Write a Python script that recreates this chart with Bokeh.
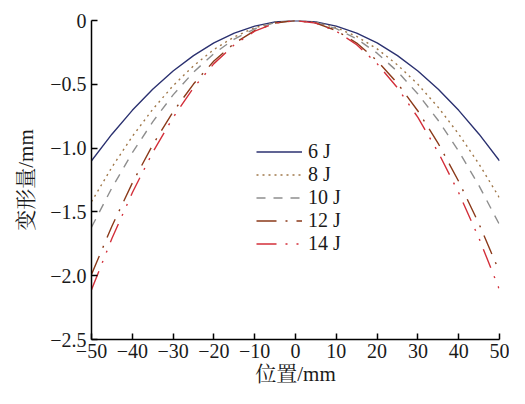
from bokeh.plotting import figure
from bokeh.models import FixedTicker, CustomJSTickFormatter, Legend, LegendItem, Range1d
from bokeh.embed import file_html
from bokeh.resources import INLINE

# ---- data ----
positions = [-50, -45, -40, -35, -30, -25, -20, -15, -10, -5, 0,
             5, 10, 15, 20, 25, 30, 35, 40, 45, 50]

d_6J = [-1.10, -0.891, -0.704, -0.539, -0.396, -0.275, -0.176, -0.099, -0.044, -0.011, 0.0,
        -0.011, -0.044, -0.099, -0.176, -0.275, -0.396, -0.539, -0.704, -0.891, -1.10]
d_8J = [-1.42, -1.150, -0.909, -0.696, -0.511, -0.355, -0.227, -0.128, -0.057, -0.014, 0.0,
        -0.014, -0.056, -0.125, -0.222, -0.348, -0.500, -0.681, -0.890, -1.126, -1.39]
d_10J = [-1.62, -1.312, -1.037, -0.794, -0.583, -0.405, -0.259, -0.146, -0.065, -0.016, 0.0,
         -0.016, -0.064, -0.144, -0.256, -0.400, -0.576, -0.784, -1.024, -1.296, -1.60]
d_12J = [-1.99, -1.612, -1.274, -0.975, -0.716, -0.498, -0.318, -0.179, -0.080, -0.020, 0.0,
         -0.020, -0.079, -0.177, -0.315, -0.493, -0.709, -0.965, -1.261, -1.596, -1.97]
d_14J = [-2.11, -1.709, -1.350, -1.034, -0.760, -0.528, -0.338, -0.190, -0.084, -0.021, 0.0,
         -0.021, -0.084, -0.190, -0.338, -0.528, -0.760, -1.034, -1.350, -1.709, -2.11]

series_labels = ["6 J", "8 J", "10 J", "12 J", "14 J"]
series_data = [d_6J, d_8J, d_10J, d_12J, d_14J]

x_ticks = [-50, -40, -30, -20, -10, 0, 10, 20, 30, 40, 50]
y_ticks = [-2.5, -2.0, -1.5, -1.0, -0.5, 0.0]

x_title = "位置/mm"
y_title = "变形量/mm"

# ---- styles ----
colors = ["#2b3170", "#a0784a", "#8e8e8e", "#8b3a1a", "#d32f3a"]
dashes = ["solid", "2 4", "9 8", "20 9 2 9", "20 9 2 9 2 9"]

SERIF = "Liberation Serif, Noto Serif CJK SC, Noto Sans CJK SC"

p = figure(width=509, height=388, output_backend="svg", toolbar_location=None,
           x_range=Range1d(-50, 50), y_range=Range1d(-2.5, 0),
           min_border_left=91, min_border_right=10, min_border_top=20,
           min_border_bottom=10)
p.outline_line_color = None
p.grid.visible = False
p.background_fill_color = "white"

renderers = []
for data, c, d in zip(series_data, colors, dashes):
    r = p.line(positions, data, line_color=c, line_width=1.4, line_dash=d)
    renderers.append(r)

for ax in (p.xaxis[0], p.yaxis[0]):
    ax.axis_line_color = "black"
    ax.axis_line_width = 1.5
    ax.major_tick_line_color = "black"
    ax.major_tick_line_width = 1.5
    ax.major_tick_in = 6
    ax.major_tick_out = 0
    ax.minor_tick_line_color = None
    ax.major_label_text_font = SERIF
    ax.major_label_text_font_size = "20px"
    ax.major_label_text_color = "#1a1a1a"
    ax.axis_label_text_font = SERIF
    ax.axis_label_text_font_size = "21px"
    ax.axis_label_text_font_style = "normal"
    ax.axis_label_text_color = "#1a1a1a"

p.xaxis[0].ticker = FixedTicker(ticks=x_ticks)
p.yaxis[0].ticker = FixedTicker(ticks=y_ticks)
p.xaxis[0].formatter = CustomJSTickFormatter(
    code="return tick < 0 ? '\u2212' + Math.abs(tick) : '' + tick;")
p.yaxis[0].formatter = CustomJSTickFormatter(
    code="return Math.abs(tick) < 1e-9 ? '0' : '\u2212' + Math.abs(tick).toFixed(1);")
p.xaxis[0].axis_label = x_title
p.yaxis[0].axis_label = y_title
p.xaxis[0].major_label_standoff = 4
p.xaxis[0].axis_label_standoff = 1
p.yaxis[0].major_label_standoff = 5
p.yaxis[0].axis_label_standoff = 9

legend = Legend(items=[LegendItem(label=l, renderers=[r]) for l, r in zip(series_labels, renderers)],
                location=(165, 84))
legend.padding = 0
legend.margin = 0
legend.spacing = 0
legend.glyph_width = 46
legend.glyph_height = 23
legend.label_height = 23
legend.label_standoff = 6
legend.label_text_font = SERIF
legend.label_text_font_size = "20px"
legend.label_text_color = "#1a1a1a"
legend.border_line_color = None
legend.background_fill_alpha = 0
p.add_layout(legend)

open("out.html", "w").write(file_html(p, INLINE))
